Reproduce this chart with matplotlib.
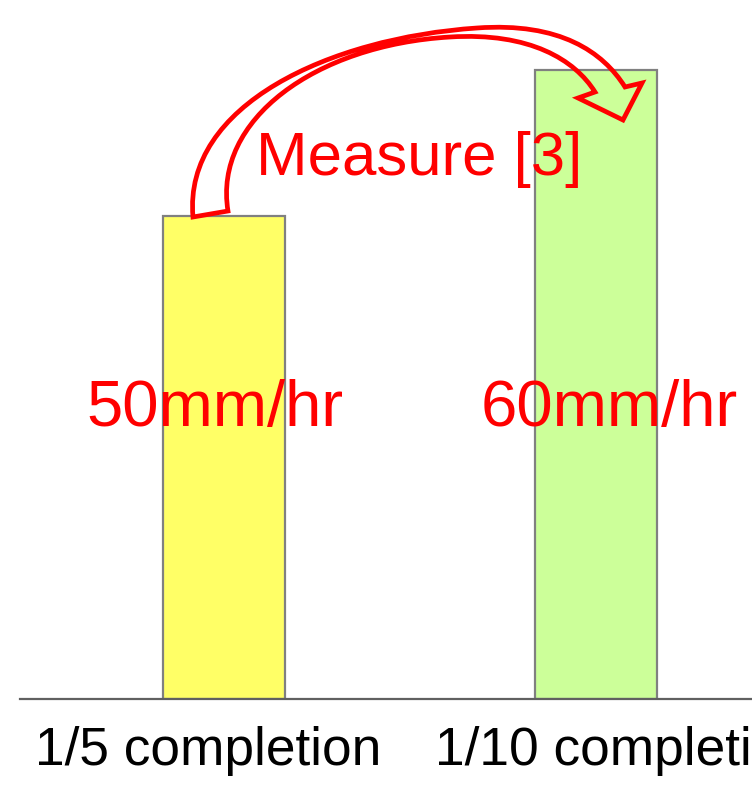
import matplotlib
matplotlib.use('Agg')
import matplotlib.pyplot as plt
from matplotlib.path import Path
from matplotlib.patches import PathPatch

plt.rcParams['font.family'] = ['Liberation Sans', 'DejaVu Sans']

categories = ["1/5 completion", "1/10 completion"]
heights = [4.83, 6.29]
rate_labels = ["50mm/hr", "60mm/hr"]
bar_colors = ["#FFFF66", "#CCFF99"]
note = "Measure [3]"

fig = plt.figure(figsize=(7.52, 8), dpi=100)
ax = fig.add_axes([20 / 752, 101 / 800, 732 / 752, 699 / 800])

x = list(range(len(categories)))
ax.bar(x, heights, width=0.328, color=bar_colors, edgecolor="#808080", linewidth=1.6, zorder=2)
ax.set_xlim(-0.549, 1.421)
ax.set_ylim(0, 6.99)

for s in ["top", "right", "left"]:
    ax.spines[s].set_visible(False)
ax.spines["bottom"].set_color("#606060")
ax.spines["bottom"].set_linewidth(1.6)
ax.set_xticks([])
ax.set_yticks([])
ax.patch.set_alpha(0)

# category labels under the axis (left aligned, clipped by the figure edge)
label_x = [-0.509, 0.568]
for i, lab in enumerate(categories):
    ax.text(label_x[i], -0.66, lab, ha="left", va="baseline", fontsize=38.3,
            color="black", clip_on=False)

# red rate labels across the bars
rate_x = [-0.023, 1.038]
for i, lab in enumerate(rate_labels):
    ax.text(rate_x[i], 2.73, lab, ha="center", va="baseline", fontsize=47,
            color="red", zorder=3)

# overlay in pixel coordinates for the curved block arrow and note
ov = fig.add_axes([0, 0, 1, 1])
ov.set_xlim(0, 752)
ov.set_ylim(800, 0)
ov.axis("off")
ov.patch.set_alpha(0)

verts = [
    (193, 217),
    (183, 105), (330, 38), (477, 28),
    (560, 22), (603, 52), (625, 87),
    (642, 83),
    (623, 120),
    (578, 98),
    (595, 92),
    (575, 60), (530, 32), (450, 37),
    (315, 45), (213, 120), (228, 211),
    (193, 217),
]
codes = [Path.MOVETO,
         Path.CURVE4, Path.CURVE4, Path.CURVE4,
         Path.CURVE4, Path.CURVE4, Path.CURVE4,
         Path.LINETO, Path.LINETO, Path.LINETO, Path.LINETO,
         Path.CURVE4, Path.CURVE4, Path.CURVE4,
         Path.CURVE4, Path.CURVE4, Path.CURVE4,
         Path.CLOSEPOLY]
ov.add_patch(PathPatch(Path(verts, codes), facecolor="none", edgecolor="red",
                       linewidth=3.4, joinstyle="miter"))

ov.text(419, 175, note, ha="center", va="baseline", fontsize=44.5, color="red")

fig.savefig("out.png", dpi=100)
